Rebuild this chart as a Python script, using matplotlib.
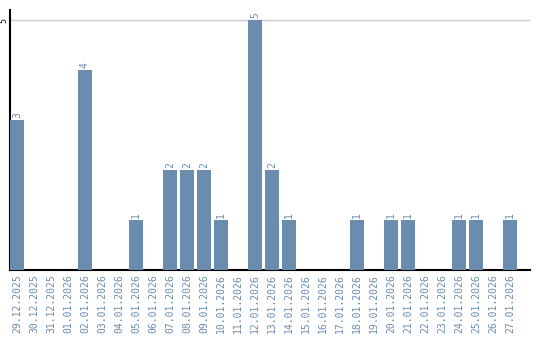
import matplotlib
matplotlib.use("Agg")
import matplotlib.pyplot as plt
import numpy as np

# ---- data ----
dates = ['29.12.2025', '30.12.2025', '31.12.2025', '01.01.2026', '02.01.2026',
         '03.01.2026', '04.01.2026', '05.01.2026', '06.01.2026', '07.01.2026',
         '08.01.2026', '09.01.2026', '10.01.2026', '11.01.2026', '12.01.2026',
         '13.01.2026', '14.01.2026', '15.01.2026', '16.01.2026', '17.01.2026',
         '18.01.2026', '19.01.2026', '20.01.2026', '21.01.2026', '22.01.2026',
         '23.01.2026', '24.01.2026', '25.01.2026', '26.01.2026', '27.01.2026']
counts = [3, 0, 0, 0, 4, 0, 0, 1, 0, 2,
          2, 2, 1, 0, 5, 2, 1, 0, 0, 0,
          1, 0, 1, 1, 0, 0, 1, 1, 0, 1]

BAR_COLOR = '#6a8caf'
TEXT_COLOR = '#6a8caf'

fig = plt.figure(figsize=(5.4, 3.4), dpi=100)
ax = fig.add_axes([10/540, 70/340, 520/540, 260/340])

x = np.arange(len(dates))
ax.bar(x, counts, width=0.82, color=BAR_COLOR, zorder=3)

# value labels
for xi, c in zip(x, counts):
    if c > 0:
        ax.text(xi, c + 0.04, str(c), rotation=90, ha='center', va='bottom',
                fontsize=7, family='DejaVu Sans Mono', color=TEXT_COLOR)

ax.set_xlim(-0.41, 30.18)
ax.set_ylim(0, 5.2)
ax.set_xticks(x)
ax.set_xticklabels(dates, rotation=90, fontsize=7, family='DejaVu Sans Mono',
                   color=TEXT_COLOR)
ax.set_yticks([5])
ax.set_yticklabels(['5'], rotation=90, fontsize=6, family='DejaVu Sans Mono',
                   va='center')
ax.tick_params(axis='x', length=0, pad=3)
ax.tick_params(axis='y', length=0, pad=1)
ax.yaxis.grid(True, color='#cccccc', linewidth=1, zorder=0)

for s in ['top', 'right']:
    ax.spines[s].set_visible(False)
ax.spines['left'].set_linewidth(1.5)
ax.spines['bottom'].set_linewidth(1.5)

fig.savefig('out.png', dpi=100)
